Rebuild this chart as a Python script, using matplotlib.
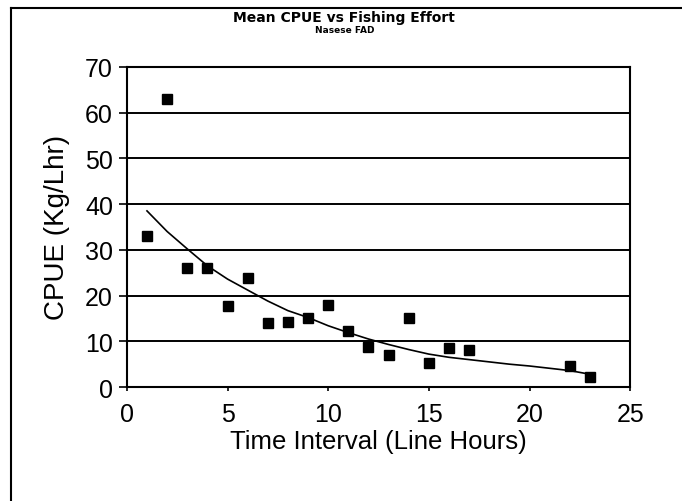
import matplotlib
matplotlib.use("Agg")
import matplotlib.pyplot as plt
from matplotlib.lines import Line2D

# observed mean CPUE per time interval
hours = [1, 2, 3, 4, 5, 6, 7, 8, 9, 10, 11, 12, 13, 14, 15, 16, 17, 22, 23]
cpue = [33, 63, 26, 26, 17.7, 23.8, 14, 14.2, 15.1, 17.9, 12.2, 8.7, 7, 15.1, 5.2, 8.5, 8.1, 4.6, 2.2]

# fitted trend line
trend_x = [1, 2, 3, 4, 5, 6, 7, 8, 9, 10, 11, 12, 13, 14, 15, 16, 17, 18, 19, 20, 21, 22, 23]
trend_y = [38.5, 34, 30.2, 26.5, 23.6, 21.2, 18.8, 16.7, 15.2, 13.4, 11.9, 10.5, 9.3, 8.2, 7.2,
           6.5, 6.0, 5.5, 5.0, 4.6, 4.1, 3.6, 2.8]

x_ticks = [0, 5, 10, 15, 20, 25]
y_ticks = [0, 10, 20, 30, 40, 50, 60, 70]

FONT = "Liberation Sans"

fig = plt.figure(figsize=(6.82, 5.02), dpi=100)
ax = fig.add_axes([0.186, 0.227, 0.738, 0.638])

for yv in y_ticks[1:-1]:
    ax.axhline(yv, color="black", lw=1.4, zorder=1)

ax.plot(trend_x, trend_y, color="black", lw=1.2, zorder=2)
ax.plot(hours, cpue, ls="none", marker="s", ms=7, color="black", zorder=3)

ax.set_xlim(0, 25)
ax.set_ylim(0, 70)
ax.set_xticks(x_ticks)
ax.set_yticks(y_ticks)
ax.tick_params(axis="y", direction="out", length=6, width=1.2, pad=4, labelsize=18)
ax.tick_params(axis="x", direction="out", length=3, width=1.2, pad=8, labelsize=18)
for lab in ax.get_xticklabels() + ax.get_yticklabels():
    lab.set_family(FONT)
for sp in ax.spines.values():
    sp.set_linewidth(1.5)

ax.set_xlabel("Time Interval (Line Hours)", family=FONT, fontsize=18.5, labelpad=2)
ax.set_ylabel("CPUE (Kg/Lhr)", family=FONT, fontsize=20)
ax.yaxis.set_label_coords(-0.113, 0.5)

fig.text(0.505, 0.978, "Mean CPUE vs Fishing Effort", ha="center", va="top",
         family="DejaVu Sans", fontsize=10, fontweight="bold")
fig.text(0.505, 0.948, "Nasese FAD", ha="center", va="top",
         family="DejaVu Sans", fontsize=6.5, fontweight="bold")

# outer frame (top and left edges visible)
fig.add_artist(Line2D([0.016, 1.0], [0.983, 0.983], color="black", lw=1.5,
                      transform=fig.transFigure))
fig.add_artist(Line2D([0.016, 0.016], [0.0, 0.983], color="black", lw=1.5,
                      transform=fig.transFigure))

fig.savefig("out.png", dpi=100)
